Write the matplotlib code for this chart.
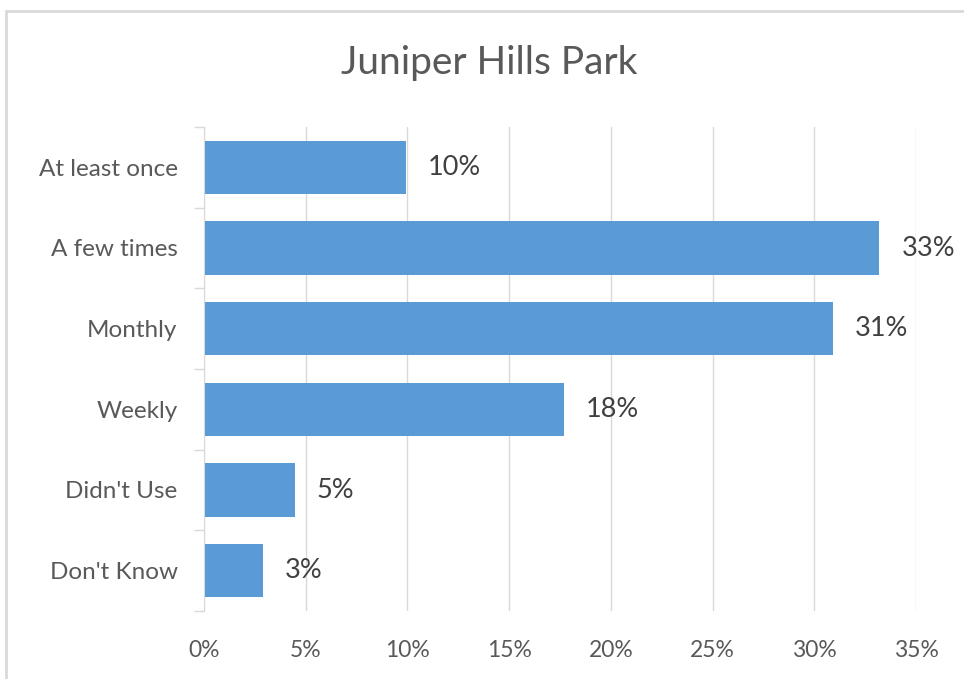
import matplotlib
matplotlib.use("Agg")
import matplotlib.pyplot as plt
from matplotlib.patches import Rectangle
from matplotlib.ticker import MultipleLocator, FuncFormatter

plt.rcParams['font.family'] = ['Lato', 'DejaVu Sans']

title = "Juniper Hills Park"
categories = ["At least once", "A few times", "Monthly", "Weekly", "Didn't Use", "Don't Know"]
values = [0.0993, 0.332, 0.309, 0.177, 0.0447, 0.029]
labels = ["10%", "33%", "31%", "18%", "5%", "3%"]

W, H = 964, 679
fig = plt.figure(figsize=(W / 100, H / 100), dpi=100)
fig.patch.set_facecolor("white")
fig.add_artist(Rectangle((6 / W, -0.05), 1.1, 1 - 11 / H + 0.05, transform=fig.transFigure,
                         fill=False, edgecolor="#d9d9d9", linewidth=2))

ax = fig.add_axes([204 / W, 1 - 611 / H, (916 - 204) / W, (611 - 127) / H])
n = len(categories)
ypos = list(range(n))
ax.barh(ypos, values, height=0.66, color="#5B9BD5", zorder=3)
ax.set_ylim(n - 0.5, -0.5)
ax.set_xlim(0, 0.35)
ax.xaxis.set_major_locator(MultipleLocator(0.05))
ax.xaxis.set_major_formatter(FuncFormatter(lambda v, p: f"{v*100:.0f}%"))
ax.grid(axis="x", color="#d9d9d9", linewidth=1, zorder=0)
for s in ["top", "right", "bottom"]:
    ax.spines[s].set_visible(False)
ax.spines["left"].set_color("#d9d9d9")
ax.spines["left"].set_zorder(4)

ax.set_yticks([y - 0.5 for y in range(n + 1)], minor=False)
ax.set_yticklabels([])
ax.tick_params(axis="y", which="major", length=7.5, color="#d9d9d9", width=1)
ax.set_yticks(ypos, minor=True)
ax.set_yticklabels(categories, minor=True)
ax.tick_params(axis="y", which="minor", length=0, pad=19, labelsize=17.5, labelcolor="#595959")
ax.tick_params(axis="x", length=0, pad=21, labelsize=16.5, labelcolor="#595959")

for y, v, lab in zip(ypos, values, labels):
    ax.text(v + 0.0108, y, lab, va="center", ha="left", fontsize=19.5, color="#404040", zorder=5)

fig.text(489 / W, 1 - 63 / H, title, ha="center", va="center", fontsize=28, color="#595959")

fig.savefig("out.png", dpi=100)
